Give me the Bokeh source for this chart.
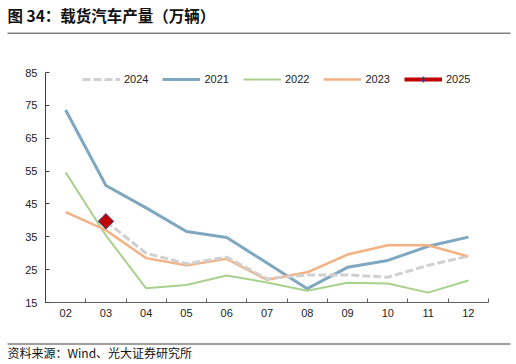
from bokeh.plotting import figure
from bokeh.models import FixedTicker, Legend, LegendItem, Range1d
from bokeh.layouts import column
from bokeh.core.properties import value
from bokeh.embed import file_html
from bokeh.resources import INLINE
import numpy as np

months = ["02", "03", "04", "05", "06", "07", "08", "09", "10", "11", "12"]
y2021 = [73.6, 50.6, 43.8, 36.6, 34.8, 27.0, 19.2, 25.7, 27.8, 32.1, 34.9]
y2022 = [54.6, 35.4, 19.3, 20.3, 23.2, 21.1, 18.6, 21.0, 20.8, 18.0, 21.7]
y2023 = [42.5, 37.0, 28.5, 26.3, 28.3, 21.9, 24.2, 29.6, 32.4, 32.4, 29.0]
y2024 = [None, 39.7, 30.0, 26.8, 28.8, 22.2, 23.4, 23.4, 22.7, 26.3, 29.1]
y2025 = [None, 39.7, None, None, None, None, None, None, None, None, None]
y_ticks = [15, 25, 35, 45, 55, 65, 75, 85]
title_text = "图 34：载货汽车产量（万辆）"
source_text = "资料来源：Wind、光大证券研究所"

xs = np.arange(len(months)) + 0.5

def arr(v):
    return np.array([np.nan if a is None else a for a in v], dtype=float)

FONT = "Liberation Sans"
CJK = "Noto Sans CJK SC"
W = 516

p = figure(width=W, height=308, output_backend="svg", toolbar_location=None,
           x_range=Range1d(0, len(months)), y_range=Range1d(15, 85),
           min_border_left=45, min_border_right=28, min_border_top=38, min_border_bottom=40)
p.frame_align = False
p.outline_line_color = None
p.xgrid.visible = False
p.ygrid.visible = False

r21 = p.line(xs, arr(y2021), line_color="#7FA7C0", line_width=3)
r22 = p.line(xs, arr(y2022), line_color="#A9D18E", line_width=2)
r23 = p.line(xs, arr(y2023), line_color="#F4B183", line_width=2.5)
r24 = p.line(xs, arr(y2024), line_color="#D0D0D0", line_width=3, line_dash="8 3")
r25l = p.line(xs, arr(y2025), line_color="#C00000", line_width=4)
r25m = p.scatter(xs, arr(y2025), marker="square", angle=np.pi / 4, size=11,
                 fill_color="#C00000", line_color="#3A4FA0", line_width=1)
# small marker used only for the legend entry
r25k = p.scatter(xs, arr([None] * len(months)), marker="diamond", size=5,
                 fill_color="#C00000", line_color="#3A4FA0", line_width=1)

xa = p.xaxis[0]
xa.ticker = FixedTicker(ticks=list(xs), minor_ticks=list(range(len(months) + 1)))
xa.major_label_overrides = {float(x): m for x, m in zip(xs, months)}
xa.major_tick_line_color = None
xa.minor_tick_in = 4
xa.minor_tick_out = 0
xa.minor_tick_line_color = "#606060"
xa.axis_line_color = "#606060"
xa.major_label_text_font = FONT
xa.major_label_text_font_size = "11px"
xa.major_label_text_color = "#222222"
xa.major_label_standoff = 0

ya = p.yaxis[0]
ya.ticker = FixedTicker(ticks=y_ticks)
ya.minor_tick_line_color = None
ya.major_tick_in = 4
ya.major_tick_out = 0
ya.major_tick_line_color = "#404040"
ya.axis_line_color = "#404040"
ya.major_label_text_font = FONT
ya.major_label_text_font_size = "11px"
ya.major_label_text_color = "#222222"
ya.major_label_standoff = 8

legend = Legend(items=[
    LegendItem(label="2024", renderers=[r24]),
    LegendItem(label="2021", renderers=[r21]),
    LegendItem(label="2022", renderers=[r22]),
    LegendItem(label="2023", renderers=[r23]),
    LegendItem(label="2025", renderers=[r25l, r25k]),
], orientation="horizontal", location=(37, 216), padding=0, margin=0,
    border_line_color=None, background_fill_alpha=0, glyph_width=38, glyph_height=14,
    label_standoff=4, spacing=14, label_text_font=FONT, label_text_font_size="11px",
    label_text_color="#222222")
p.add_layout(legend, "center")


def band(h):
    f = figure(width=W, height=h, output_backend="svg", toolbar_location=None,
               x_axis_type=None, y_axis_type=None, min_border=0,
               x_range=Range1d(0, W), y_range=Range1d(0, h))
    f.frame_align = False
    f.outline_line_color = None
    f.grid.visible = False
    return f


header = band(34)
header.text(x=[7], y=[20], text=[title_text], text_font=value(CJK),
            text_font_size="15.5px", text_font_style="bold", text_color="#111111",
            text_baseline="middle")
header.quad(left=[7], right=[510], bottom=[0], top=[2], fill_color="#808080",
            line_color=None)

footer = band(22)
footer.quad(left=[7], right=[510], bottom=[20], top=[21], fill_color="#404040",
            line_color=None)
footer.text(x=[7], y=[12], text=[source_text], text_font=value(CJK),
            text_font_size="12px", text_color="#111111", text_baseline="middle")

layout = column(header, p, footer, spacing=0)
open("out.html", "w").write(file_html(layout, INLINE))
